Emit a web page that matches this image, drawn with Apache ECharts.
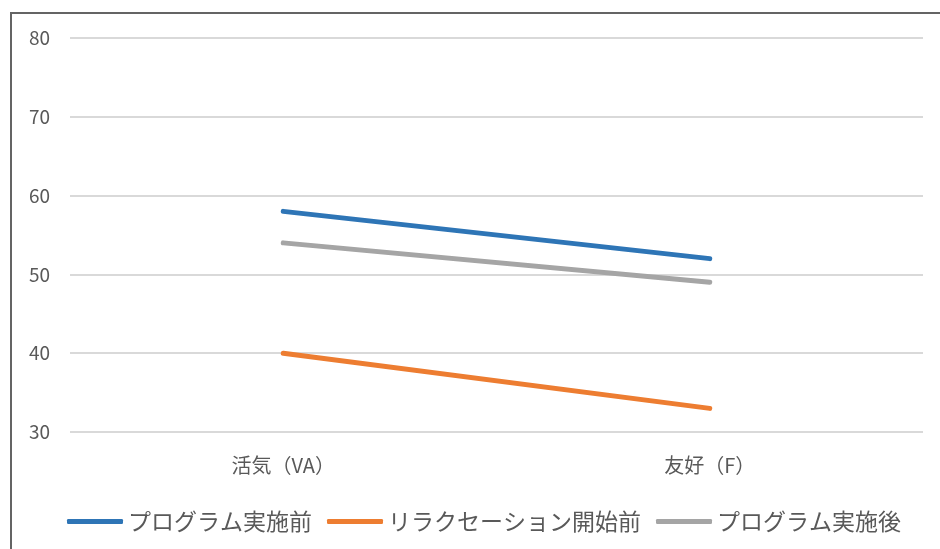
<!DOCTYPE html>
<html>
<head>
<meta charset="utf-8">
<script src="https://cdn.jsdelivr.net/npm/echarts@6/dist/echarts.min.js"></script>
<style>
  html, body { margin: 0; padding: 0; background: #fff; }
  #chart { width: 940px; height: 549px; }
</style>
</head>
<body>
<div id="chart"></div>
<script>
// Mood scores by scale
const categories = ['活気（VA）', '友好（F）'];
const seriesNames = ['プログラム実施前', 'リラクセーション開始前', 'プログラム実施後'];
const beforeProgram = [58, 52];
const beforeRelaxation = [40, 33];
const afterProgram = [54, 49];
const yTicks = { min: 30, max: 80, interval: 10 };

const colors = ['#2E75B6', '#ED7D31', '#A5A5A5'];
const values = [beforeProgram, beforeRelaxation, afterProgram];
const fontFamily = '"Noto Sans CJK JP", "Noto Sans", sans-serif';

const chart = echarts.init(document.getElementById('chart'), null, { renderer: 'canvas' });
chart.setOption({
  animation: false,
  backgroundColor: '#fff',
  textStyle: { fontFamily: fontFamily },
  graphic: [{
    type: 'rect',
    shape: { x: 11, y: 13, width: 1000, height: 600 },
    style: { fill: 'none', stroke: '#646464', lineWidth: 2 },
    silent: true
  }],
  grid: { left: 70, right: 17, top: 38, bottom: 117, containLabel: false },
  xAxis: {
    type: 'category',
    data: categories,
    boundaryGap: true,
    axisLine: { show: false },
    axisTick: { show: false },
    axisLabel: { color: '#595959', fontSize: 20, margin: 23, fontFamily: fontFamily }
  },
  yAxis: {
    type: 'value',
    min: yTicks.min,
    max: yTicks.max,
    interval: yTicks.interval,
    axisLine: { show: false },
    axisTick: { show: false },
    axisLabel: { color: '#595959', fontSize: 19, margin: 20, fontFamily: fontFamily },
    splitLine: { lineStyle: { color: '#d9d9d9', width: 2 } }
  },
  legend: {
    top: 505,
    left: 62,
    itemWidth: 56,
    itemHeight: 5,
    itemGap: 15,
    icon: 'roundRect',
    textStyle: { color: '#595959', fontSize: 23, fontFamily: fontFamily },
    data: seriesNames
  },
  series: seriesNames.map((name, i) => ({
    name: name,
    type: 'line',
    data: values[i],
    symbol: 'none',
    color: colors[i],
    lineStyle: { width: 5, color: colors[i], cap: 'round' }
  }))
});
</script>
</body>
</html>
